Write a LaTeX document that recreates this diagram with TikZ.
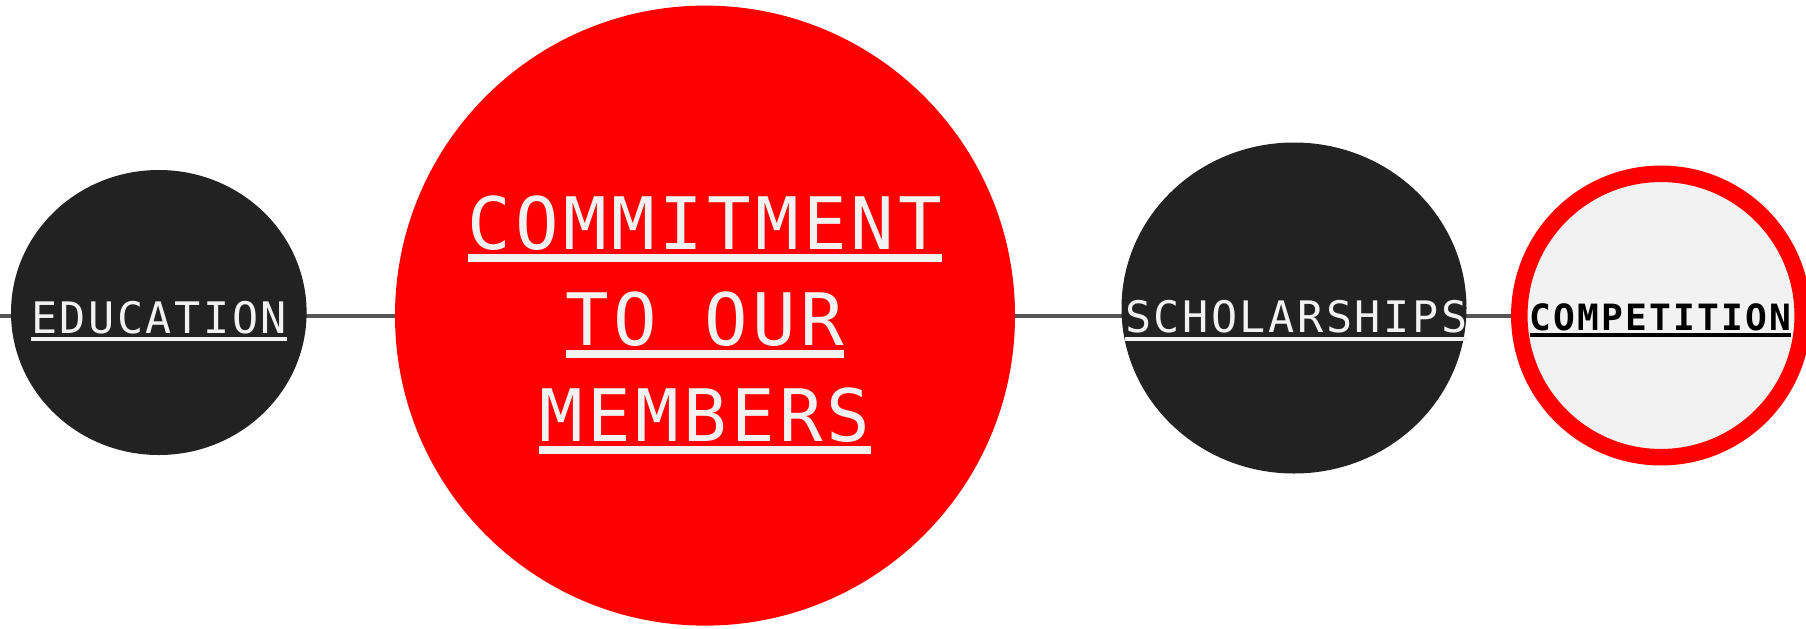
\documentclass[tikz,border=0pt]{standalone}
\usepackage{fontspec}
\usepackage{tikz}
\usetikzlibrary{positioning}
\usetikzlibrary{shapes.geometric}
\usetikzlibrary{backgrounds}

\newfontfamily\pillfont{DejaVu Sans Mono}[LetterSpace=6]

\definecolor{pillblack}{HTML}{222222}
\definecolor{pillwhite}{HTML}{F2F2F2}
\definecolor{pillred}{HTML}{FF0000}
\definecolor{linkgray}{HTML}{555555}

\tikzset{
  blob/.style={ellipse, fill=pillblack, inner sep=0, outer sep=0},
  smalltext/.style={font=\pillfont\fontsize{21.7pt}{26pt}\selectfont, anchor=base, inner sep=0, outer sep=0},
  bigtext/.style={font=\pillfont\fontsize{36.2pt}{43pt}\selectfont, anchor=base, inner sep=0, outer sep=0, text=pillwhite},
  uline/.style={line width=2pt}
}

\begin{document}
\begin{tikzpicture}[x=0.5pt, y=-0.5pt]

% Set the size of the figure
\useasboundingbox (0,0) rectangle (1806,628);

% The bubbles
\node[blob, minimum width=147.8pt, minimum height=142.5pt] (edu) at (158.8,312.5) {};
\node[circle, fill=pillred, minimum size=310pt, inner sep=0, outer sep=0] (cmt) at (705,315.6) {};
\node[blob, minimum width=172.5pt, minimum height=165.5pt] (schol) at (1294,308) {};
\node[circle, draw=pillred, line width=8.25pt, fill=pillwhite, minimum size=141.7pt, inner sep=0] (comp) at (1661,315.5) {};

% The line behind them
\coordinate (lstart) at (0,315.5);
\begin{scope}[on background layer]
\draw[linkgray, line width=2pt] (lstart) -- (comp);
\end{scope}

% Education
\node[smalltext, text=pillwhite] (edu-t) at (159,333.3) {EDUCATION};
\draw[uline, pillwhite] ([yshift=-2.7pt]edu-t.base west) -- ([yshift=-2.7pt]edu-t.base east);

% Commitment to our members
\node[bigtext] (cmt-a) at (705,249) {COMMITMENT};
\node[bigtext] (cmt-b) at (705,345) {TO OUR};
\node[bigtext] (cmt-c) at (705,441) {MEMBERS};
\draw[uline, line width=4pt, pillwhite] ([yshift=-4.5pt]cmt-a.base west) -- ([yshift=-4.5pt]cmt-a.base east);
\draw[uline, line width=4pt, pillwhite] ([yshift=-4.5pt]cmt-b.base west) -- ([yshift=-4.5pt]cmt-b.base east);
\draw[uline, line width=4pt, pillwhite] ([yshift=-4.5pt]cmt-c.base west) -- ([yshift=-4.5pt]cmt-c.base east);

% Scholarships
\node[smalltext, text=pillwhite] (schol-t) at (1296.2,332.7) {SCHOLARSHIPS};
\draw[uline, pillwhite] ([yshift=-3pt]schol-t.base west) -- ([yshift=-3pt]schol-t.base east);

% Competition
\node[smalltext, font=\pillfont\bfseries\fontsize{18.1pt}{22pt}\selectfont, text=black] (comp-t) at (1660.3,330) {COMPETITION};
\draw[uline, black] ([yshift=-2.35pt]comp-t.base west) -- ([yshift=-2.35pt]comp-t.base east);

\end{tikzpicture}
\end{document}
